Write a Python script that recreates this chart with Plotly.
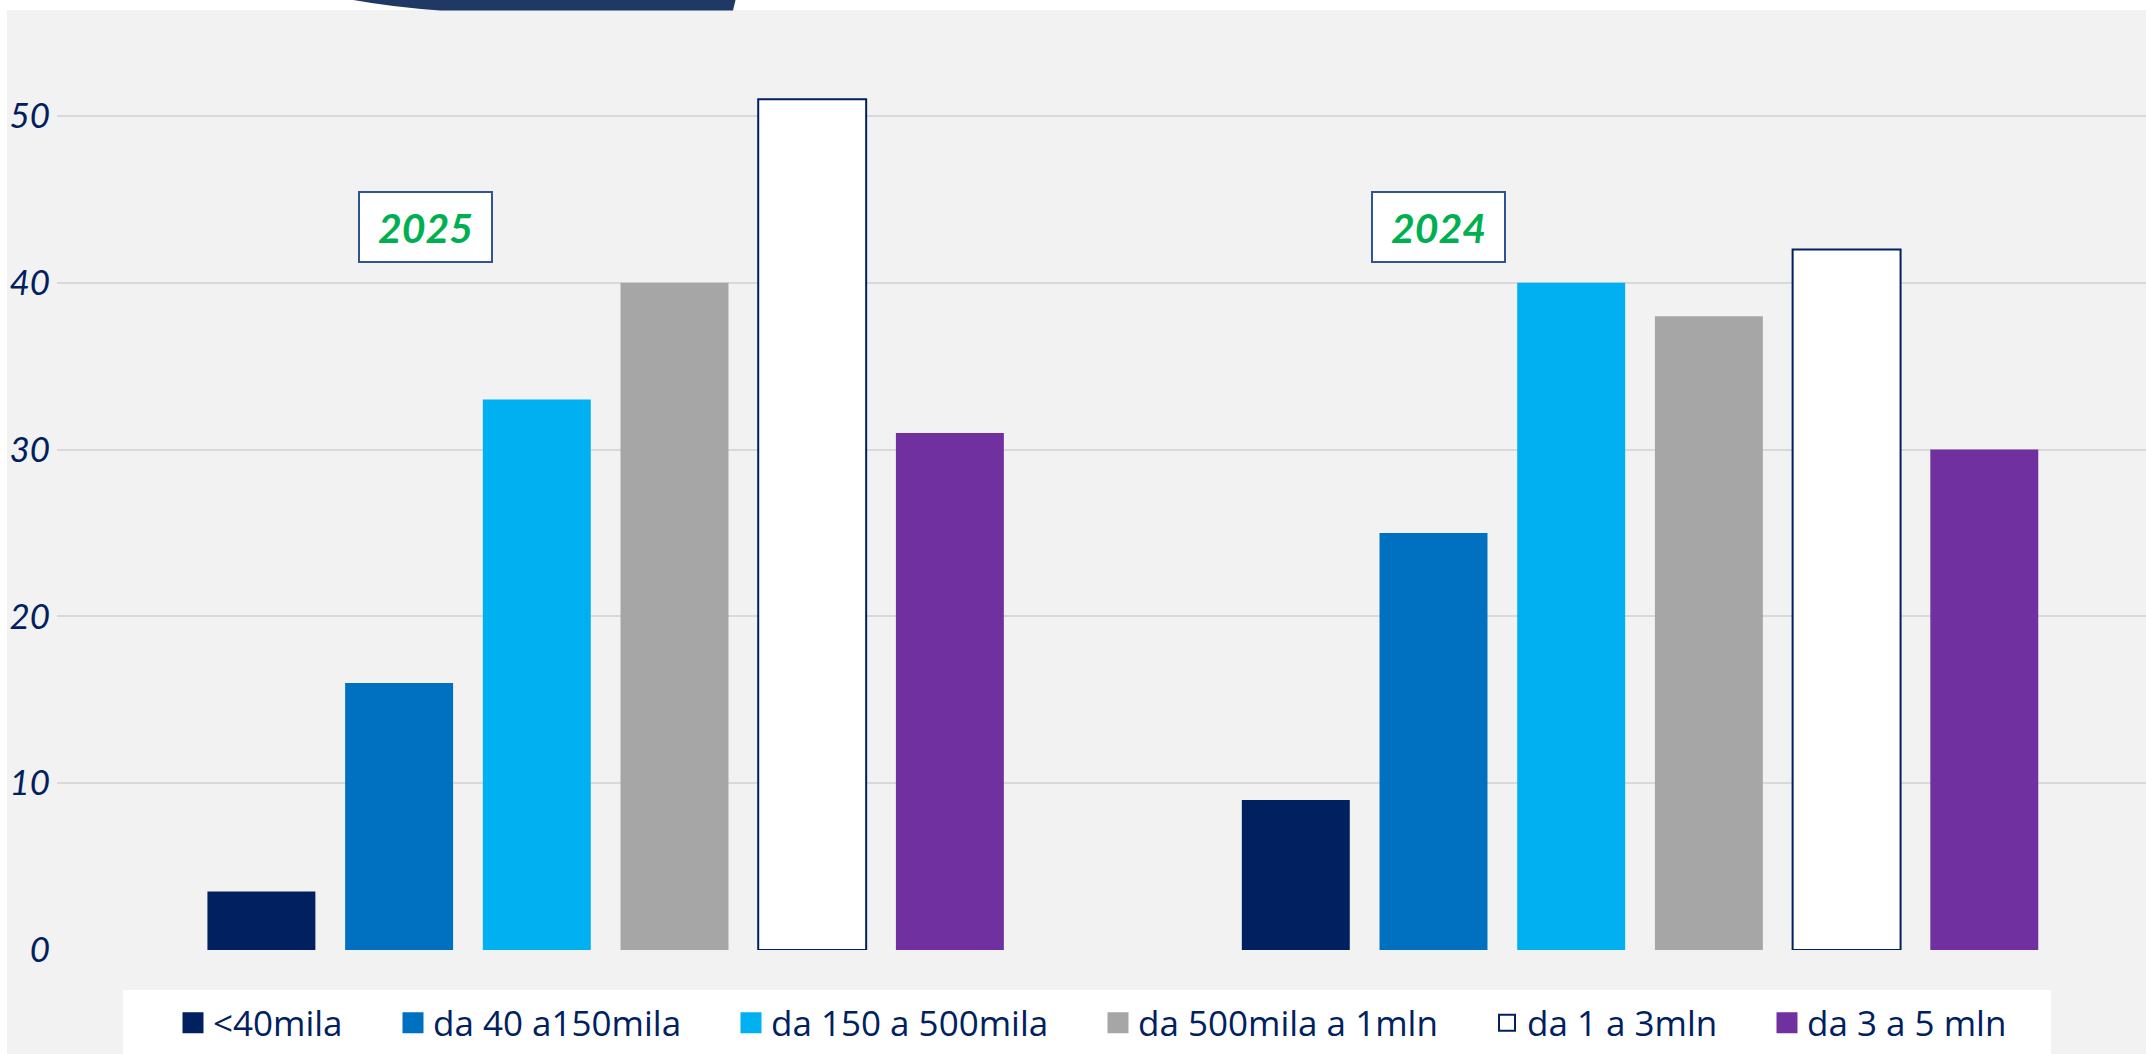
import plotly.graph_objects as go

# ---- data ----
years = ["2025", "2024"]
bands = ["&lt;40mila", "da 40 a150mila", "da 150 a 500mila",
         "da 500mila a 1mln", "da 1 a 3mln", "da 3 a 5 mln"]
v_lt40 = [3.5, 9]
v_40_150 = [16, 25]
v_150_500 = [33, 40]
v_500_1m = [40, 38]
v_1_3m = [51, 42]
v_3_5m = [31, 30]
series = [v_lt40, v_40_150, v_150_500, v_500_1m, v_1_3m, v_3_5m]
y_ticks = [0, 10, 20, 30, 40, 50]

colors = ["#002060", "#0070C0", "#00B0F0", "#A6A6A6", "#FFFFFF", "#7030A0"]
NAVY = "#002060"

W, H = 2146, 1054
L, R, T, B = 57, 0, 10, 104
pw, ph = W - L - R, H - T - B

def px2px(x):
    return (x - L) / pw

def py2py(y):
    return (H - B - y) / ph

legend_centers = [193, 413, 751, 1118, 1507, 1787]

fig = go.Figure()
layout_legends = {}
for i, (name, vals, c) in enumerate(zip(bands, series, colors)):
    is_white = c == "#FFFFFF"
    line_c = NAVY if is_white else c
    lg = "legend" if i == 0 else f"legend{i + 1}"
    fig.add_trace(go.Bar(
        x=years, y=vals, name=name, legendgroup=name, showlegend=False,
        marker=dict(color=c, line=dict(color=line_c, width=2 if is_white else 0)),
    ))
    # legend entry (same group as the bars)
    fig.add_trace(go.Scatter(
        x=[None], y=[None], mode="markers", name=name, legendgroup=name,
        legend=lg, hoverinfo="skip",
        marker=dict(symbol="square", size=16, color=c,
                    line=dict(color=line_c, width=2 if is_white else 5)),
    ))
    layout_legends[lg] = dict(
        orientation="h", x=px2px(legend_centers[i] - 20), y=py2py(1023),
        xanchor="left", yanchor="middle", bgcolor="rgba(0,0,0,0)", borderwidth=0,
        font=dict(family="Open Sans", size=35, color=NAVY), itemwidth=30,
    )

shapes = [
    # grey panel background
    dict(type="rect", xref="paper", yref="paper", layer="below",
         x0=px2px(7), x1=px2px(W + 5), y0=py2py(H + 5), y1=py2py(10),
         fillcolor="#F2F2F2", line=dict(width=0)),
    # white legend box
    dict(type="rect", xref="paper", yref="paper", layer="below",
         x0=px2px(123), x1=px2px(2051), y0=py2py(H + 5), y1=py2py(990),
         fillcolor="#FFFFFF", line=dict(width=0)),
    # clipped title shape at the top
    dict(type="path", xref="paper", yref="paper", layer="above",
         path=(f"M {px2px(343)},{py2py(-2)} "
               f"Q {px2px(385)},{py2py(6.5)} {px2px(440)},{py2py(10.5)} "
               f"L {px2px(733)},{py2py(10.5)} L {px2px(736)},{py2py(-2)} Z"),
         fillcolor="#203864", line=dict(width=0)),
]

annotations = []
for lab, cx in [("2025", 425.5), ("2024", 1438.5)]:
    annotations.append(dict(
        text=f"<b><i>{lab}</i></b>", xref="paper", yref="paper",
        x=px2px(cx), y=py2py(227), xanchor="center", yanchor="middle",
        showarrow=False, bgcolor="#FFFFFF", bordercolor="#2F5597",
        borderwidth=2, width=131, height=68, borderpad=0,
        font=dict(family="Lato", size=41, color="#00B050"),
    ))

fig.update_layout(
    width=W, height=H,
    margin=dict(l=L, r=R, t=T, b=B, pad=0),
    paper_bgcolor="#FFFFFF", plot_bgcolor="rgba(0,0,0,0)",
    barmode="group", bargap=0.2013, bargroupgap=0.216,
    font=dict(family="Lato", color=NAVY),
    xaxis=dict(range=[-0.5304, -0.5304 + pw / 1034.4], showticklabels=False,
               showgrid=False, zeroline=False, showline=False, fixedrange=True),
    yaxis=dict(range=[0, ph / 16.68], tickvals=y_ticks, ticktext=[str(t) for t in y_ticks],
               showgrid=True, gridcolor="#D9D9D9", gridwidth=2,
               zeroline=False, showline=False, ticks="",
               tickfont=dict(family="Lato", size=35, color=NAVY, style="italic"),
               ticklabelstandoff=6),
    shapes=shapes, annotations=annotations,
    **layout_legends,
)

fig.write_html("out.html", config={"displayModeBar": False},
               post_script="document.body.style.margin='0';document.body.style.overflow='hidden';")
